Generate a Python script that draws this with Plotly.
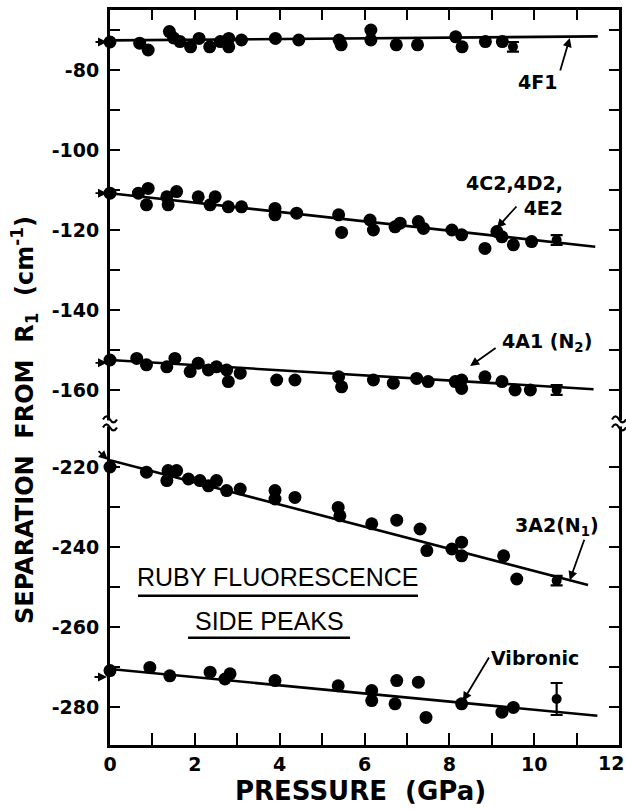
import plotly.graph_objects as go

# ---------------- DATA ----------------
# 4F1
p_4f1 = [0.0, 0.7, 0.9, 1.4, 1.5, 1.65, 1.9, 2.1, 2.35, 2.6, 2.8, 2.8, 3.1, 3.9, 4.45,
         5.4, 5.45, 6.15, 6.15, 6.75, 7.25, 8.15, 8.3, 8.85, 9.25]
v_4f1 = [-73.0, -73.3, -75.0, -70.4, -72.0, -72.9, -74.2, -72.1, -74.2, -72.9, -72.1, -74.2, -72.5, -72.1, -72.5,
         -72.5, -73.7, -70.0, -72.5, -73.7, -73.7, -71.7, -74.2, -72.9, -72.9]
err_4f1 = [9.5, -74.2, 1.2]
fit_p_4f1 = [0.0, 11.5]
fit_v_4f1 = [-72.6, -71.6]

# 4C2, 4D2, 4E2
p_4c2 = [0.0, 0.67, 0.9, 0.86, 1.34, 1.57, 1.37, 2.08, 2.48, 2.36, 2.79, 3.1, 3.89, 3.89, 4.4,
         5.39, 5.46, 6.13, 6.21, 6.72, 6.84, 7.27, 7.39, 8.06, 8.29, 8.84, 9.12, 9.24, 9.51, 9.94]
v_4c2 = [-110.8, -110.8, -109.6, -113.7, -111.7, -110.4, -113.7, -111.7, -111.7, -113.7, -114.2, -114.2, -114.6, -116.2, -115.8,
         -116.2, -120.6, -117.5, -120.0, -119.2, -118.3, -117.9, -119.6, -120.0, -121.2, -124.6, -120.4, -121.7, -123.7, -122.9]
err_4c2 = [10.53, -122.5, 1.2]
fit_p_4c2 = [0.0, 11.44]
fit_v_4c2 = [-110.8, -124.2]

# 4A1 (N2)
p_4a1 = [0.0, 0.63, 0.86, 1.34, 1.53, 1.89, 2.08, 2.32, 2.51, 2.75, 2.79, 3.07, 3.93, 4.36,
         5.39, 5.46, 6.21, 6.68, 7.23, 7.5, 8.14, 8.29, 8.29, 8.84, 9.24, 9.55, 9.91]
v_4a1 = [-152.5, -152.1, -153.7, -154.2, -152.1, -155.4, -153.3, -155.0, -154.2, -155.0, -157.9, -155.8, -157.5, -157.5,
         -156.7, -159.2, -157.5, -158.3, -157.1, -157.9, -157.9, -157.5, -159.6, -156.7, -157.9, -160.0, -160.0]
err_4a1 = [10.53, -160.0, 1.2]
fit_p_4a1 = [0.0, 11.4]
fit_v_4a1 = [-152.5, -159.8]

# 3A2 (N1)
p_3a2 = [0.0, 0.86, 1.37, 1.57, 1.34, 1.85, 2.12, 2.32, 2.51, 2.75, 3.07, 3.89, 3.89, 4.36,
         5.38, 5.42, 6.17, 6.76, 7.31, 7.47, 8.06, 8.29, 8.29, 9.28, 9.59]
v_3a2 = [-220.0, -221.3, -220.9, -220.9, -223.4, -223.0, -223.4, -224.7, -223.4, -225.9, -225.5, -225.9, -228.0, -227.6,
         -230.1, -232.2, -234.2, -233.3, -235.5, -240.9, -240.5, -238.8, -242.2, -242.2, -248.0]
err_3a2 = [10.53, -248.4, 1.2]
fit_p_3a2 = [0.0, 11.27]
fit_v_3a2 = [-218.3, -249.5]

# Vibronic
p_vib = [0.0, 0.94, 1.41, 2.36, 2.71, 2.83, 3.89, 5.38, 6.17, 6.17, 6.76, 6.72, 7.27, 7.45, 8.29, 9.24, 9.51]
v_vib = [-270.9, -270.1, -272.2, -271.3, -273.0, -271.7, -273.4, -274.7, -275.9, -278.4, -273.4, -279.2, -273.8,
         -282.6, -279.2, -281.3, -280.1]
err_vib = [10.53, -278.0, 4.0]
fit_p_vib = [0.0, 11.49]
fit_v_vib = [-270.5, -282.2]

# ticks (the last x label "12" sits at the right edge and is drawn separately so it stays inside the page)
x_ticks = list(range(0, 13))
x_ticklabels = [str(t) if (t % 2 == 0 and t < 12) else "" for t in x_ticks]
x_last_label = "12"
y_top_ticks = [-70, -80, -90, -100, -110, -120, -130, -140, -150, -160]
y_bot_ticks = [-220, -230, -240, -250, -260, -270, -280]

def lab(ticks):
    return [str(t) if t % 20 == 0 else "" for t in ticks]

# ---------------- FIGURE ----------------
fig = go.Figure()

BLACK = "black"
MS = 13
FONT = "DejaVu Sans"

series = [
    (p_4f1, v_4f1, err_4f1, fit_p_4f1, fit_v_4f1, "x2", "y2"),
    (p_4c2, v_4c2, err_4c2, fit_p_4c2, fit_v_4c2, "x2", "y2"),
    (p_4a1, v_4a1, err_4a1, fit_p_4a1, fit_v_4a1, "x2", "y2"),
    (p_3a2, v_3a2, err_3a2, fit_p_3a2, fit_v_3a2, "x", "y"),
    (p_vib, v_vib, err_vib, fit_p_vib, fit_v_vib, "x", "y"),
]

for p, v, e, fp, fv, xa, ya in series:
    fig.add_trace(go.Scatter(x=fp, y=fv, mode="lines", line=dict(color=BLACK, width=2.6),
                             xaxis=xa, yaxis=ya, hoverinfo="skip"))
    fig.add_trace(go.Scatter(x=p, y=v, mode="markers", marker=dict(color=BLACK, size=MS),
                             xaxis=xa, yaxis=ya, cliponaxis=False))
    fig.add_trace(go.Scatter(x=[e[0]], y=[e[1]], mode="markers",
                             marker=dict(color=BLACK, size=10),
                             error_y=dict(type="data", array=[e[2]], color=BLACK, thickness=2.2, width=6),
                             xaxis=xa, yaxis=ya, cliponaxis=False))

# layout geometry
L, R, T, B = 110, 7, 10, 64
W, H = 626, 809
PW, PH = W - L - R, H - T - B
SPLIT = 0.4375

axis_common = dict(showgrid=False, zeroline=False, showline=True, linecolor=BLACK, linewidth=3,
                   ticks="inside", tickcolor=BLACK, tickwidth=2, automargin=False)
tickfont = dict(family=FONT, size=19, color=BLACK, weight="bold")

fig.update_layout(
    width=W, height=H, autosize=False, margin=dict(l=L, r=R, t=T, b=B),
    plot_bgcolor="white", paper_bgcolor="white", showlegend=False,
    xaxis=dict(domain=[0, 1], anchor="y", range=[0, 12], tickvals=x_ticks, ticktext=x_ticklabels,
               ticklen=12, tickfont=tickfont, ticklabelstandoff=0, ticklabeloverflow="allow",
               **axis_common),
    xaxis2=dict(domain=[0, 1], anchor="y2", side="top", matches="x", range=[0, 12], tickvals=x_ticks,
                showticklabels=False, ticklen=10, **axis_common),
    yaxis=dict(domain=[0, SPLIT], anchor="x", range=[-289.5, -289.5 + SPLIT * PH / 4.0],
               tickvals=y_bot_ticks, ticktext=lab(y_bot_ticks), ticklen=10, mirror="ticks",
               tickfont=tickfont, ticklabelstandoff=4, **axis_common),
    yaxis2=dict(domain=[SPLIT, 1], anchor="x2", range=[-65 - (1 - SPLIT) * PH / 4.0, -65],
                tickvals=y_top_ticks, ticktext=lab(y_top_ticks), ticklen=10, mirror="ticks",
                tickfont=tickfont, ticklabelstandoff=4, **axis_common),
)

# ---------- axis break marks ----------
def pp(px, py):
    return (px - L) / PW, (H - B - py) / PH

break_py = H - B - SPLIT * PH
shapes = []
for cx in (L, W - R):
    x0, y0 = pp(cx - 5, break_py - 3)
    x1, y1 = pp(cx + 5, break_py + 3)
    shapes.append(dict(type="rect", xref="paper", yref="paper", x0=x0, x1=x1, y0=y0, y1=y1,
                       fillcolor="white", line=dict(width=0), layer="above"))
    for cy in (break_py - 4, break_py + 4):
        a = pp(cx - 7, cy)
        c1 = pp(cx - 3.5, cy - 6)
        m = pp(cx, cy)
        c2 = pp(cx + 3.5, cy + 6)
        b = pp(cx + 7, cy)
        path = f"M {a[0]},{a[1]} Q {c1[0]},{c1[1]} {m[0]},{m[1]} Q {c2[0]},{c2[1]} {b[0]},{b[1]}"
        shapes.append(dict(type="path", xref="paper", yref="paper", path=path,
                           line=dict(color=BLACK, width=2.2), layer="above"))

# underlines for the title block
ul1_x, ul1_y = [0.66, 7.26], -252.2
ul2_x, ul2_y = [1.84, 5.66], -262.7
for xs, yv in ((ul1_x, ul1_y), (ul2_x, ul2_y)):
    shapes.append(dict(type="line", xref="x", yref="y", x0=xs[0], x1=xs[1], y0=yv, y1=yv,
                       line=dict(color=BLACK, width=2.5)))
fig.update_layout(shapes=shapes)

# ---------- annotations ----------
lab_font = dict(family=FONT, size=19, color=BLACK, weight="bold")
ann = []
def text(x, y, t, yref, **kw):
    d = dict(x=x, y=y, xref="x", yref=yref, text=t, showarrow=False, font=lab_font)
    d.update(kw)
    ann.append(d)

def arrow(x, y, ax, ay, yref, standoff=0):
    ann.append(dict(x=x, y=y, xref="x", yref=yref, text="", showarrow=True, ax=ax, ay=ay,
                    arrowhead=2, arrowsize=1, arrowwidth=1.8, arrowcolor=BLACK, standoff=standoff))

text(10.09, -83, "4F1", "y2")
arrow(10.84, -72.0, -10, 34, "y2")
text(10.72, -111.25, "4C2,4D2,<br>4E2", "y2", xanchor="right", align="right")
arrow(9.12, -119.5, 21, -23, "y2")
text(10.3, -148, "4A1 (N<sub>2</sub>)", "y2")
arrow(8.49, -154.0, 27, -19, "y2")
text(10.54, -235, "3A2(N<sub>1</sub>)", "y")
arrow(10.84, -248.3, 15, -42, "y")
text(10.02, -267.7, "Vibronic", "y")
arrow(8.32, -278.5, 27, -45, "y")

title_font = dict(family="Liberation Sans", size=25, color=BLACK)
text(3.96, -247.4, "RUBY FLUORESCENCE", "y", font=title_font)
text(3.75, -258.4, "SIDE PEAKS", "y", font=title_font)

# zero-pressure arrows
arrow(0, -73.0, -16, 0, "y2", standoff=3)
arrow(0, -110.8, -16, 0, "y2", standoff=3)
arrow(0, -153.2, -16, 0, "y2", standoff=3)
arrow(0, -218.7, -13, -12, "y", standoff=3)
arrow(0, -272.5, -17, 0, "y", standoff=3)

# last x tick label, kept inside the page at the right edge
lx = pp(625, 763)
ann.append(dict(x=lx[0], y=lx[1], xref="paper", yref="paper", showarrow=False,
                xanchor="right", yanchor="middle", text=x_last_label, font=tickfont, borderpad=0))

axis_title_font = dict(family=FONT, size=24, color=BLACK, weight="bold")
yt = pp(25, 420)
ann.append(dict(x=yt[0], y=yt[1], xref="paper", yref="paper", showarrow=False, textangle=-90,
                xanchor="center", yanchor="middle",
                text="SEPARATION  FROM  R<sub>1</sub>  (cm<sup>-1</sup>)", font=axis_title_font))
xt = pp(360, 791)
ann.append(dict(x=xt[0], y=xt[1], xref="paper", yref="paper", showarrow=False,
                xanchor="center", yanchor="middle",
                text="PRESSURE  (GPa)", font=dict(family=FONT, size=26, color=BLACK, weight="bold")))

fig.update_layout(annotations=ann)
fig.write_html("out.html", config={"displayModeBar": False, "responsive": False},
               post_script="document.documentElement.style.overflow='hidden';"
                           "document.body.style.overflow='hidden';"
                           "document.body.style.margin='0px';")
